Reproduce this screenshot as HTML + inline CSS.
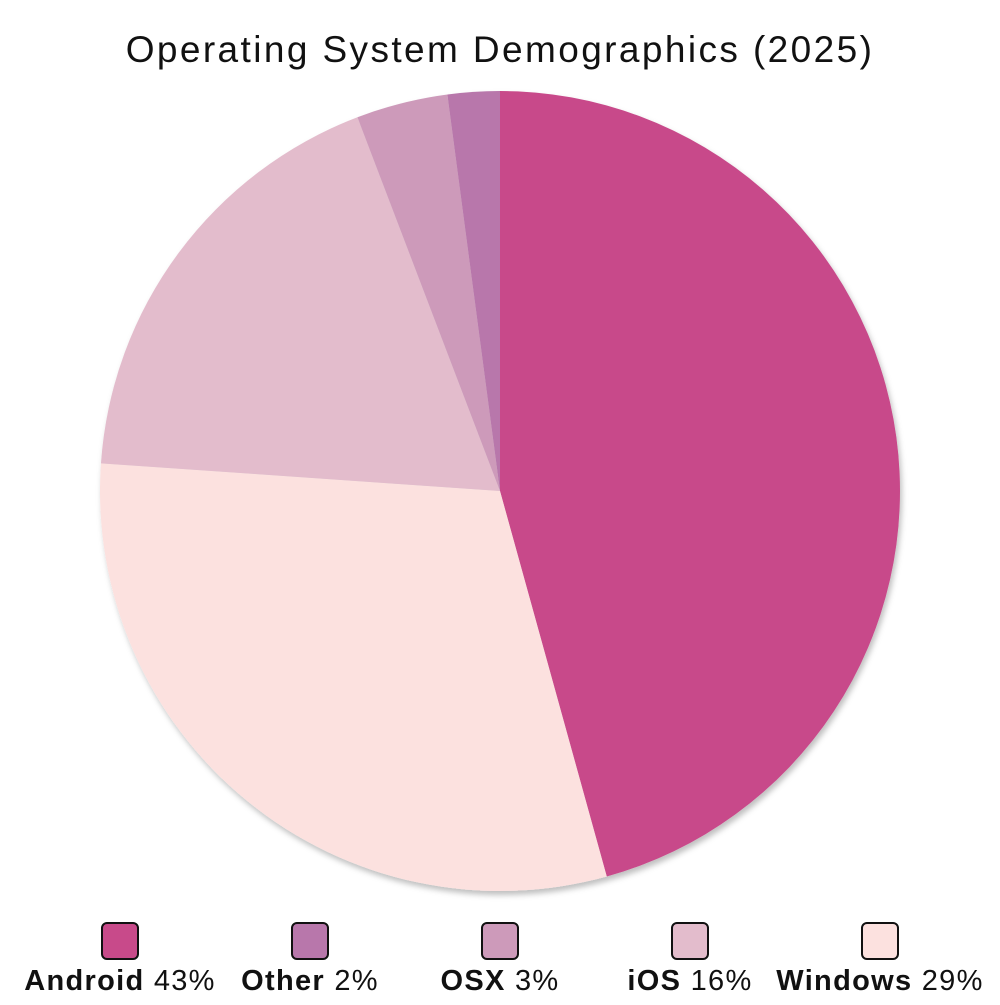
<!DOCTYPE html>
<html><head><meta charset="utf-8"><style>
body{margin:0;background:#fff;width:1000px;height:1000px;overflow:hidden;font-family:"Liberation Sans",sans-serif}
</style></head><body>
<svg id="chart" width="1000" height="1000" viewBox="0 0 1000 1000">
<defs><filter id="sh" x="-10%" y="-10%" width="120%" height="120%"><feDropShadow dx="2" dy="4" stdDeviation="3" flood-color="#000" flood-opacity="0.25"/></filter></defs>
<text x="500" y="62" text-anchor="middle" font-size="37" letter-spacing="2.4" fill="#111">Operating System Demographics (2025)</text>
<g id="slices" filter="url(#sh)"></g>
<g id="legend"></g>
</svg>
<script>
const pieOrder = ["Android","Windows","iOS","OSX","Other"];
const pieValues = [45.7,30.4,18.1,3.7,2.1];
const pieColors = ["#c84a8a","#fce1df","#e3bccc","#cd9aba","#b877ab"];
const legendNames = ["Android","Other","OSX","iOS","Windows"];
const legendValues = [43,2,3,16,29];
const legendColors = ["#c84a8a","#b877ab","#cd9aba","#e3bccc","#fce1df"];
const NS="http://www.w3.org/2000/svg";
const cx=500,cy=491,r=400;
const total=pieValues.reduce((a,b)=>a+b,0);
let a0=0;
const g=document.getElementById('slices');
pieValues.forEach((v,i)=>{
  const a1=a0+v/total*2*Math.PI;
  const x0=cx+r*Math.sin(a0),y0=cy-r*Math.cos(a0),x1=cx+r*Math.sin(a1),y1=cy-r*Math.cos(a1);
  const p=document.createElementNS(NS,'path');
  p.setAttribute('d',`M${cx},${cy}L${x0},${y0}A${r},${r} 0 ${a1-a0>Math.PI?1:0} 1 ${x1},${y1}Z`);
  p.setAttribute('fill',pieColors[i]);
  
  
  g.appendChild(p);
  a0=a1;
});
const lg=document.getElementById('legend');
legendNames.forEach((n,i)=>{
  const x=120+i*190;
  const s=document.createElementNS(NS,'rect');
  s.setAttribute('x',x-18);s.setAttribute('y',923);s.setAttribute('width',36);s.setAttribute('height',36);
  s.setAttribute('rx',5);s.setAttribute('fill',legendColors[i]);s.setAttribute('stroke','#111');s.setAttribute('stroke-width',2);
  
  
  lg.appendChild(s);
  const t=document.createElementNS(NS,'text');
  t.setAttribute('x',x);t.setAttribute('y',990);t.setAttribute('text-anchor','middle');t.setAttribute('font-size','29');t.setAttribute('letter-spacing','1.3');t.setAttribute('fill','#111');
  t.innerHTML=`<tspan font-weight="bold">${n}</tspan> ${legendValues[i]}%`;
  
  
  lg.appendChild(t);
});
</script>
</body></html>
